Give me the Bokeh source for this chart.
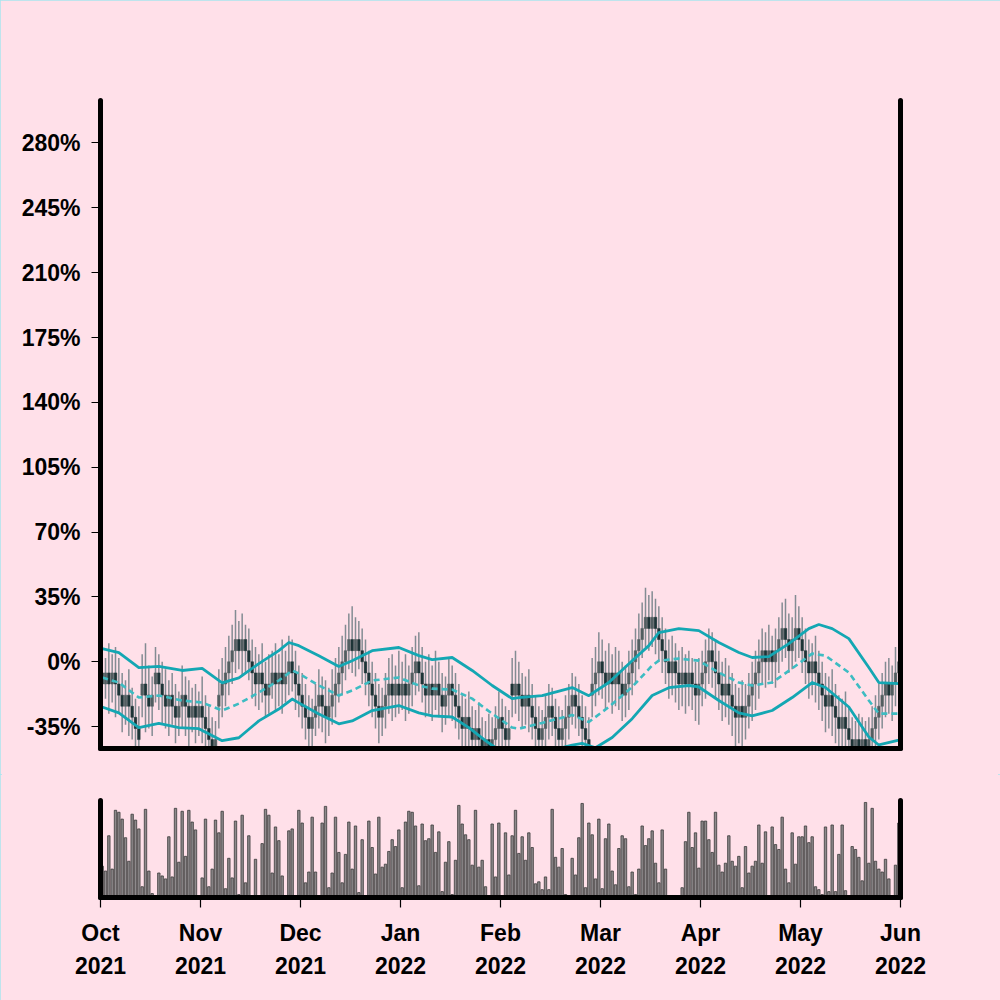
from bokeh.plotting import figure
from bokeh.layouts import column
from bokeh.models import ColumnDataSource, Range1d, FixedTicker, LinearAxis, PrintfTickFormatter
from bokeh.embed import file_html
from bokeh.resources import INLINE

# ---------------- data ----------------
month_labels = ["Oct\n2021", "Nov\n2021", "Dec\n2021", "Jan\n2022", "Feb\n2022",
                "Mar\n2022", "Apr\n2022", "May\n2022", "Jun\n2022"]
month_ticks = [0, 30, 60, 90, 120, 150, 180, 210, 240]
y_ticks = [-35, 0, 35, 70, 105, 140, 175, 210, 245, 280]

open_ = [-6,-12,-6,-12,-6,-12,-18,-24,-18,-24,
         -30,-36,-18,-12,-18,-24,-12,-6,-12,-18,
         -24,-18,-24,-30,-24,-18,-24,-30,-24,-30,
         -24,-30,-36,-42,-48,-24,-18,-12,-6,0,
         6,12,6,12,6,0,-6,-12,-6,-12,
         -18,-12,-6,-12,-6,-12,-6,0,-6,-12,
         -18,-24,-30,-36,-30,-24,-18,-24,-30,-24,
         -18,-12,-6,0,6,12,6,12,6,0,
         -6,-12,-18,-24,-30,-24,-18,-12,-18,-12,
         -18,-12,-18,-12,-6,0,-6,-12,-18,-12,
         -18,-12,-18,-24,-18,-12,-18,-24,-30,-36,
         -30,-36,-42,-36,-42,-48,-42,-48,-42,-36,
         -30,-36,-42,-12,-18,-12,-18,-24,-18,-24,
         -30,-36,-42,-36,-30,-24,-30,-36,-42,-36,
         -30,-24,-18,-24,-30,-36,-42,-18,-12,-6,
         0,-6,-12,-6,-12,-6,-12,-18,-12,-6,
         0,6,12,18,24,18,24,18,12,6,
         0,-6,0,-6,-12,-6,-12,-6,-12,-18,
         -12,-6,0,6,0,-6,-12,-18,-12,-18,
         -24,-30,-24,-30,-24,-18,-12,-6,0,6,
         0,6,0,6,12,18,12,6,12,18,
         12,6,0,-6,0,-6,-12,-18,-24,-18,
         -24,-30,-36,-30,-36,-42,-48,-42,-48,-42,
         -48,-42,-36,-30,-24,-18,-12,-18,-12,-6]

close = [-12,-6,-12,-6,-12,-18,-24,-18,-24,-30,
         -36,-42,-12,-18,-24,-18,-6,-12,-18,-24,
         -18,-24,-30,-24,-18,-24,-30,-24,-30,-24,
         -30,-36,-42,-48,-42,-18,-12,-6,0,6,
         12,6,12,6,0,-6,-12,-6,-12,-18,
         -12,-6,-12,-6,-12,-6,0,-6,-12,-18,
         -24,-30,-36,-30,-24,-18,-24,-30,-24,-18,
         -12,-6,0,6,12,6,12,6,0,-6,
         -12,-18,-24,-30,-24,-18,-12,-18,-12,-18,
         -12,-18,-12,-6,0,-6,-12,-18,-12,-18,
         -12,-18,-24,-18,-12,-18,-24,-30,-36,-30,
         -36,-42,-36,-42,-48,-42,-48,-42,-36,-30,
         -36,-42,-36,-18,-12,-18,-24,-18,-24,-30,
         -36,-42,-36,-30,-24,-30,-36,-42,-36,-30,
         -24,-18,-24,-30,-36,-42,-48,-12,-6,0,
         -6,-12,-6,-12,-6,-12,-18,-12,-6,0,
         6,12,18,24,18,24,18,12,6,0,
         -6,0,-6,-12,-6,-12,-6,-12,-18,-12,
         -6,0,6,0,-6,-12,-18,-12,-18,-24,
         -30,-24,-30,-24,-18,-12,-6,0,6,0,
         6,0,6,12,18,12,6,12,18,12,
         6,0,-6,0,-6,-12,-18,-24,-18,-24,
         -30,-36,-30,-36,-42,-48,-42,-48,-42,-48,
         -42,-36,-30,-24,-18,-12,-18,-12,-6,0]

high = [6,2,10,4,8,2,-6,-10,-4,-14,
        -20,-24,4,10,-2,-8,8,4,0,-4,
        -10,-6,-12,-16,-2,-8,-10,-14,-12,-16,
        -8,-18,-24,-30,-32,-4,2,8,14,20,
        28,22,26,20,18,12,8,4,10,0,
        4,6,10,4,12,6,14,12,6,-2,
        -6,-12,-18,-20,-12,-4,-8,-10,-14,-4,
        2,8,14,20,26,30,24,22,18,12,
        6,0,-6,-12,-14,-6,2,4,-2,6,
        0,4,-2,8,14,16,8,0,4,-2,
        6,0,-6,-8,2,-2,-6,-12,-18,-20,
        -16,-24,-26,-22,-30,-32,-28,-30,-24,-16,
        -20,-24,-26,2,6,0,-6,-8,-4,-12,
        -18,-24,-26,-18,-12,-14,-20,-24,-26,-18,
        -12,-6,-8,-12,-18,-24,-30,2,8,16,
        12,6,10,4,8,6,0,-2,6,12,
        18,26,32,40,36,38,34,30,24,18,
        12,14,10,6,8,4,6,2,0,2,
        6,12,18,16,12,6,0,2,-2,-6,
        -12,-14,-10,-12,-6,0,6,12,18,16,
        20,14,18,24,32,34,26,24,36,30,
        24,18,12,10,14,6,0,-6,-8,-4,
        -12,-18,-20,-16,-24,-30,-32,-28,-30,-32,
        -30,-24,-18,-12,-6,0,2,-2,8,14]

low = [-26,-20,-28,-22,-30,-28,-38,-34,-40,-42,
       -50,-56,-30,-38,-36,-40,-22,-26,-34,-36,
       -40,-34,-44,-40,-36,-40,-46,-38,-44,-40,
       -44,-48,-56,-60,-58,-36,-30,-24,-18,-12,
       -6,-4,-8,-6,-10,-20,-24,-26,-22,-30,
       -28,-20,-26,-24,-28,-22,-18,-16,-26,-30,
       -36,-42,-48,-46,-40,-36,-38,-44,-40,-34,
       -30,-22,-18,-10,-4,-6,-8,-4,-12,-18,
       -24,-30,-36,-44,-40,-36,-28,-32,-30,-28,
       -26,-32,-28,-24,-18,-16,-22,-30,-28,-32,
       -26,-30,-38,-34,-30,-32,-36,-42,-48,-46,
       -50,-54,-52,-56,-60,-58,-60,-58,-54,-48,
       -46,-54,-52,-30,-28,-32,-36,-34,-38,-42,
       -48,-54,-52,-48,-42,-40,-48,-54,-50,-46,
       -42,-34,-36,-40,-48,-54,-60,-30,-24,-18,
       -20,-26,-22,-28,-24,-26,-32,-30,-26,-18,
       -12,-4,2,8,6,8,4,0,-6,-12,
       -20,-18,-22,-26,-24,-28,-24,-26,-32,-34,
       -24,-20,-12,-14,-20,-26,-32,-30,-34,-40,
       -46,-44,-48,-42,-36,-32,-26,-20,-12,-14,
       -10,-12,-14,-6,0,2,-6,-4,0,2,
       -6,-12,-20,-18,-22,-26,-32,-38,-36,-40,
       -44,-50,-48,-52,-56,-60,-58,-60,-58,-60,
       -56,-54,-48,-42,-36,-30,-28,-32,-24,-18]

volume = [32,27,63,29,89,87,80,61,37,85,
          79,70,11,90,27,4,0,25,22,19,
          62,21,91,36,88,42,89,77,69,0,
          20,80,11,29,79,66,88,9,40,20,
          78,3,84,15,63,1,39,1,55,90,
          84,25,72,58,22,1,68,70,1,89,
          76,15,26,82,26,1,76,93,10,25,
          82,46,15,44,77,29,73,5,59,1,
          78,51,24,82,31,34,47,59,52,69,
          10,77,88,87,73,12,75,58,60,74,
          46,67,6,36,57,3,38,94,75,64,
          59,33,89,31,38,11,2,75,21,76,
          0,66,23,63,89,45,62,38,66,51,
          14,16,8,21,8,90,41,31,50,3,
          0,40,23,61,96,10,76,64,19,80,
          9,60,75,27,13,50,63,60,11,26,
          3,29,73,53,60,68,35,15,69,29,
          0,1,2,2,10,57,87,51,66,30,
          78,78,59,46,87,33,26,35,63,37,
          32,42,10,52,25,32,37,74,35,67,
          0,72,54,49,82,29,15,66,34,62,
          62,73,56,62,11,8,3,72,6,74,
          6,44,74,7,2,52,49,41,17,97,
          35,91,37,29,26,39,19,1,33,76]

upper_idx = [0,5,11,17,24,30,36,41,47,53,56,59,65,71,75,81,89,95,99,105,
             111,117,123,125,132,141,146,152,159,164,167,173,179,185,191,195,200,206,212,215,
             219,224,230,233,239]
upper_val = [7.1,5.0,-3.1,-2.5,-4.7,-3.6,-11.4,-8.7,-1.0,6.0,10.4,8.7,3.3,-2.5,0.6,6.0,7.7,3.3,1.2,2.3,
             -4.7,-12.8,-19.9,-19.3,-18.3,-13.9,-18.3,-11.2,0.6,8.7,15.8,17.9,16.8,10.4,5.0,2.3,2.8,9.8,17.9,20.1,
             17.9,12.5,-3.1,-11.2,-11.8]

mid_idx = [0,5,11,17,24,30,36,41,47,53,57,59,65,71,75,81,89,95,99,105,
           111,117,123,125,132,141,146,152,159,165,167,173,179,185,191,195,201,207,213,217,
           224,230,233,239]
mid_val = [-8.5,-11.2,-19.3,-18.2,-20.9,-22.0,-26.3,-22.6,-16.6,-10.1,-4.7,-6.3,-12.8,-18.2,-15.5,-10.1,-8.5,-12.8,-14.5,-15.0,
           -19.9,-28.0,-35.5,-36.1,-33.0,-28.7,-32.5,-24.4,-13.6,-2.0,0.6,1.7,0.6,-5.8,-11.2,-12.8,-11.2,-3.6,4.4,3.3,
           -5.8,-20.9,-28.0,-28.0]

lower_idx = [0,5,11,17,23,29,36,41,47,53,57,59,65,71,75,81,89,95,99,105,
             110,115,118,123,132,141,144,148,153,159,165,170,176,179,185,191,195,201,207,213,
             217,224,230,233,239]
lower_val = [-24.4,-27.6,-35.5,-33.3,-35.5,-36.1,-42.6,-41.0,-31.9,-25.5,-20.1,-22.2,-28.2,-33.5,-31.9,-26.3,-23.6,-27.6,-29.2,-29.8,
             -35.5,-42.6,-46.4,-52.0,-49.0,-45.0,-44.0,-46.4,-40.9,-30.7,-18.2,-14.0,-12.8,-13.6,-20.9,-27.6,-29.2,-26.3,-19.3,-11.2,
             -13.9,-24.4,-40.6,-44.9,-42.3]

# ---------------- style ----------------
BG = "#ffe0e9"
INC = "#525e61"
DEC = "#1d3437"
WICK = "#75838a"
BAND = "#14a7b3"
MID = "#3dbcc2"
FONT = "Liberation Sans"
FS = "23px"

n = len(close)
xs = [i + 0.5 for i in range(n)]
src = ColumnDataSource(dict(
    x=xs, high=high, low=low,
    top=[max(o, c) for o, c in zip(open_, close)],
    bottom=[min(o, c) for o, c in zip(open_, close)],
    color=[INC if c >= o else DEC for o, c in zip(open_, close)],
    volume=volume,
))


def line_axis(ax):
    ax.axis_line_width = 5
    ax.axis_line_color = "black"
    ax.axis_line_cap = "round"
    ax.minor_tick_line_color = None


# ---------------- price panel ----------------
p = figure(width=1000, height=774, x_range=Range1d(0, n), y_range=Range1d(-46.8, 302.9),
           output_backend="svg", toolbar_location=None,
           min_border_left=100, min_border_right=100, min_border_top=100, min_border_bottom=26,
           background_fill_color=BG, border_fill_color=BG, outline_line_color=None)
p.grid.visible = False

p.segment(x0="x", y0="high", x1="x", y1="low", line_color=WICK, line_width=1.5,
          line_alpha=0.9, source=src)
p.vbar(x="x", width=0.8, top="top", bottom="bottom", fill_color="color",
       line_color="color", line_width=0.5, source=src)

p.line([i + 0.5 for i in upper_idx], upper_val, line_color=BAND, line_width=2.8, line_join="round")
p.line([i + 0.5 for i in lower_idx], lower_val, line_color=BAND, line_width=2.8, line_join="round")
p.line([i + 0.5 for i in mid_idx], mid_val, line_color=MID, line_width=2.6,
       line_dash="6 4", line_join="round")

ya = p.yaxis[0]
line_axis(ya)
ya.ticker = FixedTicker(ticks=y_ticks)
ya.formatter = PrintfTickFormatter(format="%d%%")
ya.major_tick_out = 9
ya.major_tick_in = 0
ya.major_tick_line_width = 1.2
ya.major_label_standoff = 11
ya.major_label_text_font = FONT
ya.major_label_text_font_style = "bold"
ya.major_label_text_font_size = FS
ya.major_label_text_color = "black"

xa = p.xaxis[0]
line_axis(xa)
xa.ticker = FixedTicker(ticks=[])
xa.major_tick_line_color = None
xa.major_label_text_font_size = "0px"

ra = LinearAxis(ticker=FixedTicker(ticks=[]), major_tick_line_color=None,
                major_label_text_font_size="0px")
line_axis(ra)
p.add_layout(ra, "right")

# ---------------- volume panel ----------------
v = figure(width=1000, height=226, x_range=p.x_range, y_range=Range1d(0, 99),
           output_backend="svg", toolbar_location=None,
           min_border_left=100, min_border_right=100, min_border_top=26, min_border_bottom=103,
           background_fill_color=BG, border_fill_color=BG, outline_line_color=None)
v.grid.visible = False
v.vbar(x="x", width=0.72, top="volume", bottom=0, fill_color="#8e8a8c",
       line_color="#3a3a3a", line_width=0.8, source=src)

vy = v.yaxis[0]
line_axis(vy)
vy.ticker = FixedTicker(ticks=[])
vy.major_tick_line_color = None
vy.major_label_text_font_size = "0px"

vx = v.xaxis[0]
line_axis(vx)
vx.ticker = FixedTicker(ticks=month_ticks)
vx.major_label_overrides = {t: lab for t, lab in zip(month_ticks, month_labels)}
vx.major_tick_out = 10
vx.major_tick_in = 0
vx.major_tick_line_width = 1.2
vx.major_label_standoff = 12
vx.major_label_text_font = FONT
vx.major_label_text_font_style = "bold"
vx.major_label_text_font_size = FS
vx.major_label_text_color = "black"
vx.major_label_text_line_height = 1.3

vr = LinearAxis(ticker=FixedTicker(ticks=[]), major_tick_line_color=None,
                major_label_text_font_size="0px")
line_axis(vr)
v.add_layout(vr, "right")

layout_kwargs = {}
try:
    from bokeh.models import GlobalInlineStyleSheet
    layout_kwargs["stylesheets"] = [GlobalInlineStyleSheet(
        css="html, body { background: #ffe0e9; overflow: hidden; }")]
except Exception:
    pass

lay = column(p, v, spacing=0, **layout_kwargs)
lay.styles = {"outline": "2px solid #a8e6ee", "outline-offset": "-2px"}

open("out.html", "w").write(file_html(lay, INLINE))
